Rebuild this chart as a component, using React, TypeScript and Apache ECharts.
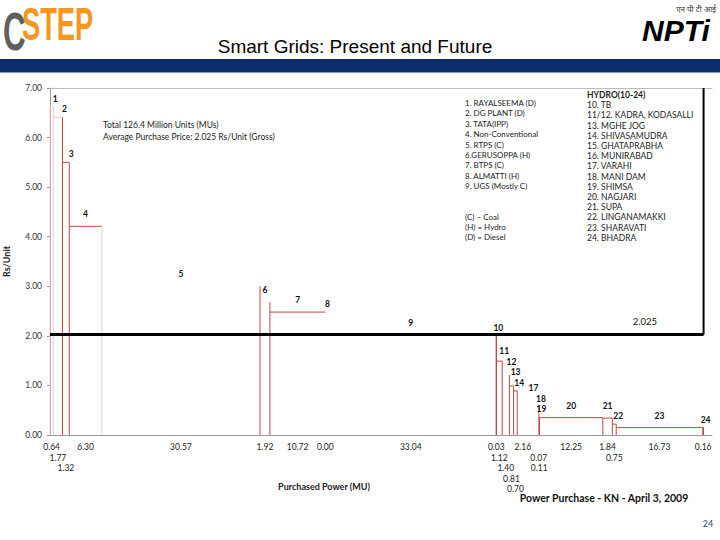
import React, { useEffect, useRef } from "react";
import * as echarts from "echarts";

// ---- data ----
const plantIds = ["1","2","3","4","5","6","7","8","9","10","11","12","13","14","15","16","17","18","19","20","21","22","23","24"];
const widthsMU = [0.64, 1.77, 1.32, 6.30, 30.57, 1.92, 10.72, 0.00, 33.04, 0.03, 1.12, 1.40, 0.81, 0.70, 2.16, 0.00, 1.96, 0.07, 0.11, 12.25, 1.84, 0.75, 16.73, 0.16];
const ratesRs = [6.62, 6.41, 5.50, 4.21, 3.00, 2.68, 2.48, 2.48, 2.02, 2.00, 1.49, 1.21, 0.99, 0.89, 0.80, 0.70, 0.60, 0.56, 0.36, 0.35, 0.34, 0.22, 0.15, 0.15];
const numberLabelShown = [true,true,true,true,true,true,true,true,true,true,true,true,true,true,false,false,true,true,true,true,true,true,true,true];
const widthLabelShown = [true,true,true,true,true,true,true,true,true,true,true,true,true,true,true,false,false,true,true,true,true,true,true,true];
const averageRate = 2.025;
const yTicks = [0, 1, 2, 3, 4, 5, 6, 7];

const legendLeft = ["1. RAYALSEEMA (D)", "2. DG PLANT (D)", "3. TATA(IPP)", "4. Non-Conventional", "5. RTPS (C)", "6.GERUSOPPA (H)", "7. BTPS (C)", "8. ALMATTI (H)", "9. UGS (Mostly C)"];
const legendKey = ["(C) – Coal", "(H) = Hydro", "(D) = Diesel"];
const legendRight = ["HYDRO(10-24)", "10. TB", "11/12. KADRA, KODASALLI", "13. MGHE JOG", "14. SHIVASAMUDRA", "15. GHATAPRABHA", "16. MUNIRABAD", "17. VARAHI", "18. MANI DAM", "19. SHIMSA", "20. NAGJARI", "21. SUPA", "22. LINGANAMAKKI", "23. SHARAVATI", "24. BHADRA"];

// ---- style config ----
const RED = "#bd4845";
const PALE = "#eccbca";
const paleTop = ["1", "2"];
const hiddenTop = ["5", "6", "9", "12", "15", "16", "17"];
const paleEdge = ["1", "4"];
const hiddenEdge = ["7", "8", "15", "16", "17"];
const FONT = "Lato, 'Noto Sans', sans-serif";

export default function App() {
  const ref = useRef<HTMLDivElement>(null);
  useEffect(() => {
    document.body.style.margin = "0";
    if (!ref.current) return;
    const chart = echarts.init(ref.current, undefined, { renderer: "svg" });

    const starts: number[] = [];
    let acc = 0;
    widthsMU.forEach((w) => { starts.push(acc); acc += w; });
    const totalMU = acc;

    // stagger width labels into rows so they do not overlap
    const HALF = 2.3;
    const rowEnds: number[] = [];
    const rows = widthsMU.map((w, i) => {
      if (!widthLabelShown[i]) return -1;
      const c = starts[i] + w / 2;
      let r = 0;
      while (rowEnds[r] !== undefined && rowEnds[r] > c - HALF) r++;
      rowEnds[r] = c + HALF;
      return r;
    });

    const barData = plantIds.map((id, i) => [starts[i], starts[i] + widthsMU[i], ratesRs[i], i]);

    const option: any = {
      animation: false,
      grid: { left: 50, right: 8, top: 88, bottom: 105, containLabel: false, outerBoundsMode: "none" },
      xAxis: [
        {
          type: "value", min: 0, max: 128,
          axisLine: { show: true, lineStyle: { color: "#9a9a9a", width: 1 } },
          axisTick: { show: false }, axisLabel: { show: false }, splitLine: { show: false },
        },
        {
          type: "value", min: 0, max: 128, position: "top",
          axisLine: { show: true, lineStyle: { color: "#bdbdbd", width: 1 } },
          axisTick: { show: false }, axisLabel: { show: false }, splitLine: { show: false },
        },
      ],
      yAxis: {
        type: "value", min: 0, max: 7, interval: 1,
        name: "Rs/Unit", nameLocation: "middle", nameGap: 39,
        nameTextStyle: { fontFamily: FONT, fontSize: 9, fontWeight: "bold", color: "#222" },
        axisLine: { show: true, lineStyle: { color: "#9a9a9a" } },
        axisTick: { show: true, length: 3, lineStyle: { color: "#9a9a9a" } },
        axisLabel: { margin: 8, fontFamily: FONT, fontSize: 8.5, color: "#333", formatter: (v: number) => (yTicks.includes(v) ? v.toFixed(2) : "") },
        splitLine: { show: false },
      },
      series: [
        {
          type: "custom",
          clip: false,
          z: 2,
          data: barData,
          renderItem: (params: any, api: any) => {
            const i = params.dataIndex;
            const id = plantIds[i];
            const s = api.value(0), e = api.value(1), h = api.value(2);
            const p0 = api.coord([s, h]);
            const p1 = api.coord([e, 0]);
            const wpx = p1[0] - p0[0];
            const children: any[] = [];
            if (i === 0) {
              children.push({ type: "line", shape: { x1: p0[0], y1: p0[1], x2: p0[0], y2: p1[1] }, style: { stroke: PALE, lineWidth: 1 } });
            }
            if (!hiddenTop.includes(id) && wpx > 0) {
              children.push({ type: "line", shape: { x1: p0[0], y1: p0[1], x2: p1[0], y2: p0[1] }, style: { stroke: paleTop.includes(id) ? PALE : RED, lineWidth: 1 } });
            }
            if (!hiddenEdge.includes(id)) {
              children.push({ type: "line", shape: { x1: p1[0], y1: p0[1], x2: p1[0], y2: p1[1] }, style: { stroke: paleEdge.includes(id) ? PALE : RED, lineWidth: 1 } });
            }
            if (rows[i] >= 0) {
              children.push({
                type: "text",
                style: {
                  text: widthsMU[i].toFixed(2), x: (p0[0] + p1[0]) / 2, y: p1[1] + 12 + rows[i] * 10.5,
                  align: "center", verticalAlign: "middle",
                  fontFamily: FONT, fontSize: 8.5, fill: "#222",
                },
              });
            }
            return { type: "group", children };
          },
        },
        {
          type: "line", z: 5, symbol: "none", silent: true,
          data: [[0, averageRate], [totalMU, averageRate]],
          lineStyle: { color: "#000", width: 3 },
        },
        {
          type: "line", z: 5, symbol: "none", silent: true,
          data: [[totalMU, averageRate], [totalMU, 7]],
          lineStyle: { color: "#000", width: 2 },
        },
      ],
      graphic: [] as any[],
    };

    const g: any[] = option.graphic;
    // header
    g.push({ type: "rect", shape: { x: 0, y: 59, width: 720, height: 13 }, style: { fill: "#0b2d6d" } });
    g.push({ type: "rect", shape: { x: 0, y: 72, width: 720, height: 1 }, style: { fill: "#8a97b5" } });
    g.push({ type: "text", style: { text: "Smart Grids: Present and Future", x: 355, y: 46, align: "center", verticalAlign: "middle", fontFamily: "'Liberation Sans', Arial, sans-serif", fontSize: 19, fill: "#000" } });
    // CSTEP logo
    g.push({ type: "text", x: 22, y: 24, scaleX: 0.62, scaleY: 1.05, style: { text: "STEP", x: 0, y: 0, align: "left", verticalAlign: "middle", fontFamily: "'Liberation Sans', sans-serif", fontWeight: "bold", fontSize: 44, fill: "#f7961e" } });
    g.push({ type: "text", x: 3, y: 31, scaleX: 0.58, style: { text: "C", x: 0, y: 0, align: "left", verticalAlign: "middle", fontFamily: "'Liberation Sans', sans-serif", fontWeight: "bold", fontSize: 54, fill: "#5f5f5f" } });
    // NPTI logo
    g.push({ type: "text", style: { text: "एन पी टी आई", x: 716, y: 9, align: "right", verticalAlign: "middle", fontFamily: FONT, fontSize: 8, fill: "#333" } });
    g.push({ type: "text", style: { text: "NPTi", x: 676, y: 30, align: "center", verticalAlign: "middle", fontFamily: "'Liberation Sans', sans-serif", fontWeight: "bold", fontStyle: "italic", fontSize: 30, fill: "#000" } });

    // chart annotations
    g.push({ type: "text", style: { text: "Total 126.4 Million Units (MUs)", x: 103, y: 125, align: "left", verticalAlign: "middle", fontFamily: FONT, fontSize: 8.5, fill: "#222" } });
    g.push({ type: "text", style: { text: "Average Purchase Price: 2.025 Rs/Unit (Gross)", x: 103, y: 137, align: "left", verticalAlign: "middle", fontFamily: FONT, fontSize: 8.5, fill: "#222" } });
    g.push({ type: "text", style: { text: averageRate.toFixed(3), x: 645, y: 321, align: "center", verticalAlign: "middle", fontFamily: FONT, fontSize: 9.5, fill: "#111" } });
    legendLeft.forEach((t, i) => g.push({ type: "text", style: { text: t, x: 465, y: 103 + i * 10.4, align: "left", verticalAlign: "middle", fontFamily: FONT, fontSize: 8, fill: "#222" } }));
    legendKey.forEach((t, i) => g.push({ type: "text", style: { text: t, x: 465, y: 217 + i * 10.2, align: "left", verticalAlign: "middle", fontFamily: FONT, fontSize: 8, fill: "#222" } }));
    legendRight.forEach((t, i) => g.push({ type: "text", style: { text: t, x: 587, y: 95 + i * 10.2, align: "left", verticalAlign: "middle", fontFamily: FONT, fontSize: 8.5, fontWeight: i === 0 ? "bold" : "normal", fill: "#222" } }));
    g.push({ type: "text", style: { text: "Purchased Power (MU)", x: 324, y: 486, align: "center", verticalAlign: "middle", fontFamily: FONT, fontSize: 9, fontWeight: "bold", fill: "#222" } });
    g.push({ type: "text", style: { text: "Power Purchase - KN - April 3, 2009", x: 604, y: 498, align: "center", verticalAlign: "middle", fontFamily: FONT, fontSize: 10.5, fontWeight: "bold", fill: "#111" } });
    g.push({ type: "text", style: { text: "24", x: 708, y: 523, align: "center", verticalAlign: "middle", fontFamily: FONT, fontSize: 9, fill: "#2c3e70" } });

    chart.setOption(option);

    // bar-number labels, placed through the chart's own scales, then de-collided
    const boxes: { id: string; x: number; y: number }[] = [];
    plantIds.forEach((id, i) => {
      if (!numberLabelShown[i]) return;
      const pTop = chart.convertToPixel({ gridIndex: 0 }, [starts[i], ratesRs[i]]) as number[];
      const pEnd = chart.convertToPixel({ gridIndex: 0 }, [starts[i] + widthsMU[i], 0]) as number[];
      const narrow = pEnd[0] - pTop[0] < 9.3;
      boxes.push({ id, x: narrow ? pEnd[0] + 2 : (pTop[0] + pEnd[0]) / 2, y: pTop[1] - (narrow ? 8 : 12) });
    });
    for (let k = 1; k < boxes.length; k++) {
      for (let j = k; j > 0; j--) {
        const a = boxes[j - 1], b = boxes[j];
        if (Math.abs(a.x - b.x) < 11 && Math.abs(a.y - b.y) < 10) a.y = b.y - 10.5;
        else break;
      }
    }
    const labelEls = boxes.map((b) => ({
      type: "text", z: 10,
      style: { text: b.id, x: b.x, y: b.y, align: "center", verticalAlign: "middle", fontFamily: FONT, fontSize: 8.5, fontWeight: "bold", fill: "#111" },
    }));
    chart.setOption({ graphic: g.concat(labelEls) });

    return () => chart.dispose();
  }, []);
  return <div ref={ref} style={{ width: 720, height: 540 }} />;
}
